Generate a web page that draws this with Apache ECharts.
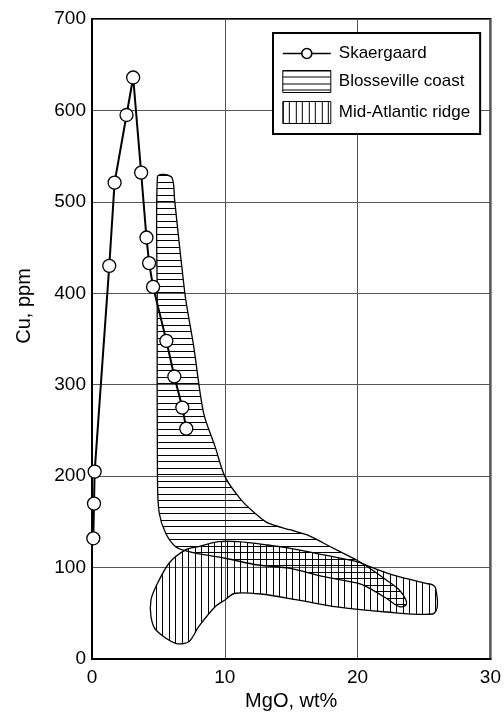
<!DOCTYPE html>
<html><head><meta charset="utf-8">
<script src="https://cdn.jsdelivr.net/npm/echarts@6/dist/echarts.min.js"></script>
<style>html,body{margin:0;padding:0;background:#fff}#c{width:504px;height:717px}</style>
</head><body><div id="c"></div>
<script>
// Skaergaard trend
const skX = [0.1, 0.15, 0.2, 1.3, 1.7, 2.6, 3.1, 3.7, 4.1, 4.3, 4.6, 5.6, 6.2, 6.8, 7.1];
const skY = [132, 170, 205, 430, 521, 595, 636, 532, 461, 433, 407, 348, 309, 275, 252];
// Blosseville coast field outline
const bloX = [4.93, 5.43, 6.04, 6.22, 6.54, 6.79, 7.06, 7.66, 8.40, 9.27, 10.01, 11.23, 12.25, 13.23, 14.97, 16.21, 17.45, 18.68, 19.93, 20.91, 22.16, 23.14, 23.64, 23.64, 23.14, 22.16, 20.67, 19.93, 17.45, 14.94, 12.49, 10.01, 8.53, 7.29, 6.30, 5.55, 5.06, 4.93, 4.91];
const bloY = [527.7, 529.9, 525.9, 502.2, 458.4, 425.6, 392.8, 341.7, 269.1, 232.3, 199.5, 174.0, 159.7, 148.8, 141.1, 135.7, 126.6, 117.4, 108.3, 99.2, 86.4, 75.5, 64.6, 59.1, 57.2, 66.4, 79.1, 83.2, 90.0, 99.2, 102.8, 110.2, 113.8, 117.4, 122.9, 137.5, 159.7, 195.8, 392.8];
// Mid-Atlantic ridge field outline
const marX = [7.04, 8.03, 9.52, 11.0, 13.23, 14.94, 17.45, 19.93, 20.91, 22.90, 25.13, 25.65, 25.87, 26.0, 25.65, 22.16, 18.44, 15.46, 12.71, 10.76, 10.01, 9.27, 8.03, 7.29, 6.30, 4.81, 4.44, 4.44, 4.81, 5.80];
const marY = [119.3, 122.9, 128.3, 128.3, 124.7, 121.1, 113.8, 106.5, 101.0, 90.8, 82.8, 81.0, 77.4, 57.2, 49.2, 51.4, 56.9, 64.6, 71.1, 71.9, 64.6, 57.2, 35.3, 18.9, 17.2, 31.7, 46.3, 64.6, 79.1, 104.7];
const seriesNames = ['Skaergaard', 'Blosseville coast', 'Mid-Atlantic ridge'];

function hatch(horizontal) {
  const c = document.createElement('canvas');
  c.width = 13; c.height = 13;
  const g = c.getContext('2d');
  g.fillStyle = '#000';
  if (horizontal) { g.fillRect(0, 0, 13, 1); g.fillRect(0, 6, 13, 1); }
  else { g.fillRect(0, 0, 1, 13); g.fillRect(6, 0, 1, 13); }
  return { image: c, repeat: 'repeat' };
}
const hPat = hatch(true), vPat = hatch(false);

function polySeries(name, xs, ys, pat, z) {
  return {
    name: name, type: 'custom', z: z,
    data: xs.map((x, i) => [x, ys[i]]),
    itemStyle: { color: pat, borderColor: '#000', borderWidth: 1 },
    renderItem: function (params, api) {
      if (params.dataIndex !== 0) return null;
      const pts = xs.map((x, i) => api.coord([x, ys[i]]));
      return { type: 'polygon', shape: { points: pts, smooth: 0.3 }, style: { fill: pat, stroke: '#000', lineWidth: 1.3 } };
    }
  };
}

const font = 'Liberation Sans, Arial, sans-serif';
const chart = echarts.init(document.getElementById('c'), null, { renderer: 'canvas' });
chart.setOption({
  animation: false,
  backgroundColor: '#fff',
  grid: { left: 92, top: 19, right: 7, bottom: 58, show: true, borderColor: '#000', borderWidth: 2, backgroundColor: 'transparent' },
  xAxis: {
    type: 'value', min: 0, max: 30, interval: 10,
    name: 'MgO, wt%', nameLocation: 'middle', nameGap: 32,
    nameTextStyle: { fontSize: 20, color: '#000', fontFamily: font },
    axisLine: { show: true, onZero: false, lineStyle: { color: '#000', width: 2 } },
    axisTick: { show: false },
    axisLabel: { fontSize: 19, color: '#000', fontFamily: font, margin: 9 },
    splitLine: { show: true, lineStyle: { color: '#555', width: 1 } }
  },
  yAxis: {
    type: 'value', min: 0, max: 700, interval: 100,
    name: 'Cu, ppm', nameLocation: 'middle', nameGap: 58, nameRotate: 90,
    nameTextStyle: { fontSize: 20, color: '#000', fontFamily: font, padding: [0, 0, 0, 66] },
    axisLine: { show: true, lineStyle: { color: '#000', width: 2 } },
    axisTick: { show: false },
    axisLabel: { fontSize: 19, color: '#000', fontFamily: font, margin: 6 },
    splitLine: { show: true, lineStyle: { color: '#555', width: 1 } }
  },
  legend: {
    orient: 'vertical', left: 273, top: 33,
    backgroundColor: '#fff', borderColor: '#000', borderWidth: 2,
    padding: [12, 10, 10, 9], itemGap: 8, itemWidth: 48, itemHeight: 22,
    symbolKeepAspect: true,
    textStyle: { fontSize: 17, color: '#000', fontFamily: font, padding: [0, 0, 0, 3] },
    z: 10,
    data: [
      { name: seriesNames[0], icon: 'path://M0,5 L19,5 M29,5 L48,5 M19,5 A5,5 0 1,0 29,5 A5,5 0 1,0 19,5 Z',
        itemStyle: { color: '#fff', borderColor: '#000', borderWidth: 1.6 } },
      { name: seriesNames[1], icon: 'rect', itemStyle: { color: hPat, borderColor: '#000', borderWidth: 1 } },
      { name: seriesNames[2], icon: 'rect', itemStyle: { color: vPat, borderColor: '#000', borderWidth: 1 } }
    ]
  },
  series: [
    polySeries(seriesNames[2], marX, marY, vPat, 1),
    polySeries(seriesNames[1], bloX, bloY, hPat, 2),
    {
      name: seriesNames[0], type: 'line', z: 5,
      data: skX.map((x, i) => [x, skY[i]]),
      symbol: 'circle', symbolSize: 13, showAllSymbol: true,
      lineStyle: { color: '#000', width: 2 },
      itemStyle: { color: '#fff', borderColor: '#000', borderWidth: 1.3 }
    }
  ]
});
</script></body></html>
